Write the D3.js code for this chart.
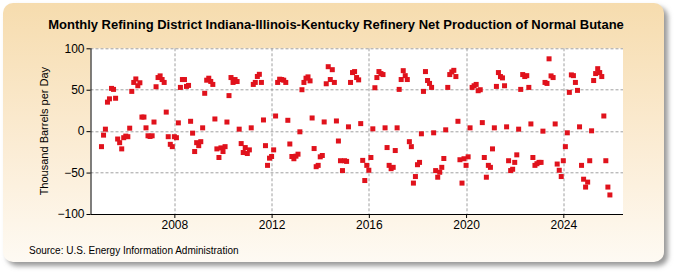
<!DOCTYPE html>
<html>
<head>
<meta charset="utf-8">
<script src="https://cdn.jsdelivr.net/npm/d3@7/dist/d3.min.js"></script>
<style>
  body { margin: 0; background: #fff; }
</style>
</head>
<body>
<script>
// Monthly values, thousand barrels per day, starting January 2005
const firstMonth = new Date(2005, 0, 1);
const production = [
  -18.7, -4.8, 2.4, 35, 39, 51.6, 50.4, 39.7, -9.5, -13.9, -21.4, -7.9,
  -6, -6.7, 3.6, 48, 58.8, 63, 54.8, 58.4, 17, 17, 4, -5.6,
  -6.4, -5.6, 11, 53.6, 64.7, 66.7, 62.3, 58.8, 23, -6.7, -15.9, -18.7,
  -6.7, -7.9, 10, 52.8, 62.3, 62.3, 54, 55.2, 11.9, -2.4, -24.6, -13.9,
  -17.5, -12.7, 4, 45.7, 61.5, 63.9, 60, 56.4, 14.7, -21.4, -31.8, -20.2,
  -24.6, -18.7, 11, 42.9, 64.7, 58.8, 62.3, 59.9, 2.4, -15, -25.8, -19.8,
  -27, -22.6, 4, 56.4, 58.8, 66, 68.6, 58.8, 13.5, -17.5, -41.3, -32.6,
  -30.6, -22.6, 18.3, 58.8, 62.7, 62.3, 61.5, 58.8, 13.1, -15.5, -30.6, -33.3,
  -30.2, -27.8, -0.8, 50, 58.8, 63.9, 65.5, 60.7, 15.9, -21, -42.9, -41.3,
  -31, -29.4, 11.1, 57.2, 77.8, 62.3, 74.2, 58.8, 12.3, -11.9, -35.7, -47.6,
  -35.7, -36.5, 5.2, 58.8, 70.7, 71.9, 64.7, 61.9, 9.1, -35.3, -59.6, -41.3,
  -47.2, -31.8, 2.8, 52.4, 64.7, 71.9, 69.5, 68.3, 4, -19.8, -41.3, -45.3,
  -43.7, -23.4, 4, 50.4, 62.3, 73, 67, 62.3, -12.7, -18.7, -62.7, -54.8,
  -40.5, -37.7, -3.2, 48, 71.9, 61.1, 57.6, 52.8, -2, -47.6, -55.6, -49.6,
  -43.7, -33, 1.6, 52.8, 68.3, 71.5, 73.4, 65.9, 11.9, -34.5, -62.7, -33.3,
  -41.3, -31, 4, 52.8, 54.8, 56.4, 48.8, 50, 10.3, -31.8, -55.6, -41.3,
  -43.7, -21.4, 4, 54, 70.7, 65.9, 64.3, 54.8, 5.2, -35.7, -47.6, -46,
  -37.7, -28.6, 2.4, 50.4, 68.3, 65.9, 67, 52.8, 8.7, -31.8, -41.3, -39.3,
  -37.7, -37.7, 0, 58.8, 57.6, 87.3, 66.7, 64.7, 8.7, -39.7, -47.2, -54.8,
  -35.7, -18.7, -2, 46.8, 67.9, 67, 58.8, 49.2, 5.2, -41.3, -58, -67.5,
  -61.5, -35.7, 0.4, 61.1, 69.5, 75.4, 70.7, 65.9, 18.3, -35.7, -67.5, -77
];
const yTicks = [-100, -50, 0, 50, 100];
const xTickYears = [2008, 2012, 2016, 2020, 2024];

const title = "Monthly Refining District Indiana-Illinois-Kentucky Refinery Net Production of Normal Butane";
const yLabel = "Thousand Barrels per Day";
const source = "Source: U.S. Energy Information Administration";

const width = 675, height = 275;
const font = "'Liberation Sans Narrow', 'Arial Narrow', 'Liberation Sans', Arial, sans-serif";

const data = production.map((v, i) => ({ date: d3.timeMonth.offset(firstMonth, i), value: v }));

const svg = d3.select("body").append("svg")
    .attr("width", width)
    .attr("height", height)
    .style("font-family", font);

// panel background with shadow
const defs = svg.append("defs");
const grad = defs.append("linearGradient")
    .attr("id", "panelGrad")
    .attr("x1", 0).attr("y1", 0).attr("x2", 0).attr("y2", 1);
grad.append("stop").attr("offset", "0%").attr("stop-color", "#f6dcae");
grad.append("stop").attr("offset", "55%").attr("stop-color", "#fbecd4");
grad.append("stop").attr("offset", "100%").attr("stop-color", "#fefaf3");

const blur = defs.append("filter").attr("id", "shadow")
    .attr("x", "-5%").attr("y", "-5%").attr("width", "110%").attr("height", "115%");
blur.append("feGaussianBlur").attr("stdDeviation", 2.5);

svg.append("rect")
    .attr("x", 7).attr("y", 7)
    .attr("width", 661).attr("height", 259)
    .attr("rx", 10)
    .attr("fill", "#9a9a9a")
    .attr("filter", "url(#shadow)");

svg.append("rect")
    .attr("x", 3).attr("y", 3)
    .attr("width", 661).attr("height", 259)
    .attr("rx", 10)
    .attr("fill", "url(#panelGrad)");

// plot area
const margin = { top: 48.3, right: 52, bottom: 61, left: 90.5 };
const plotW = width - margin.left - margin.right;
const plotH = height - margin.top - margin.bottom;

const x = d3.scaleTime()
    .domain([new Date(2004, 6, 20), new Date(2026, 5, 16)])
    .range([0, plotW]);

const y = d3.scaleLinear()
    .domain([-100, 100])
    .range([plotH, 0]);

const g = svg.append("g")
    .attr("transform", `translate(${margin.left},${margin.top})`);

g.append("rect")
    .attr("width", plotW)
    .attr("height", plotH)
    .attr("fill", "#fff");

// grid lines
g.append("g")
    .selectAll("line")
    .data(yTicks.filter(d => d !== -100))
    .join("line")
    .attr("x1", 0).attr("x2", plotW)
    .attr("y1", d => Math.round(y(d)) + 0.5)
    .attr("y2", d => Math.round(y(d)) + 0.5)
    .attr("stroke", "#a0a0a0")
    .attr("stroke-dasharray", "3,2");

g.append("g")
    .selectAll("line")
    .data(xTickYears)
    .join("line")
    .attr("x1", d => Math.round(x(new Date(d, 0, 1))) + 0.5)
    .attr("x2", d => Math.round(x(new Date(d, 0, 1))) + 0.5)
    .attr("y1", 0).attr("y2", plotH)
    .attr("stroke", "#a0a0a0")
    .attr("stroke-dasharray", "3,2");

// axes
const yAxis = d3.axisLeft(y).tickValues(yTicks).tickSize(4).tickPadding(2);
const yG = g.append("g").call(yAxis);
yG.select(".domain").remove();
yG.selectAll(".tick line").attr("stroke", "#000");
yG.selectAll("text").style("font-size", "12px").attr("fill", "#000");

const xAxis = d3.axisBottom(x)
    .tickValues(xTickYears.map(d => new Date(d, 0, 1)))
    .tickFormat(d3.timeFormat("%Y"))
    .tickSize(4)
    .tickPadding(2);
const xG = g.append("g")
    .attr("transform", `translate(0,${plotH})`)
    .call(xAxis);
xG.select(".domain").remove();
xG.selectAll(".tick line").attr("stroke", "#000");
xG.selectAll("text").style("font-size", "12px").attr("fill", "#000");

g.append("line")
    .attr("x1", 0.5).attr("x2", 0.5)
    .attr("y1", 0).attr("y2", plotH)
    .attr("stroke", "#000");
g.append("line")
    .attr("x1", 0).attr("x2", plotW)
    .attr("y1", plotH + 0.5).attr("y2", plotH + 0.5)
    .attr("stroke", "#000");

// points
g.append("g")
    .selectAll("rect")
    .data(data)
    .join("rect")
    .attr("x", d => x(d.date) - 2.5)
    .attr("y", d => y(d.value) - 2.5)
    .attr("width", 5)
    .attr("height", 5)
    .attr("fill", "#e0121c");

// texts
svg.append("text")
    .attr("x", 336)
    .attr("y", 29)
    .attr("text-anchor", "middle")
    .style("font-size", "13px")
    .style("font-weight", "bold")
    .text(title);

svg.append("text")
    .attr("transform", `translate(48,${margin.top + plotH / 2}) rotate(-90)`)
    .attr("text-anchor", "middle")
    .style("font-size", "11px")
    .text(yLabel);

svg.append("text")
    .attr("x", 29)
    .attr("y", 254)
    .style("font-size", "10px")
    .text(source);
</script>
</body>
</html>
